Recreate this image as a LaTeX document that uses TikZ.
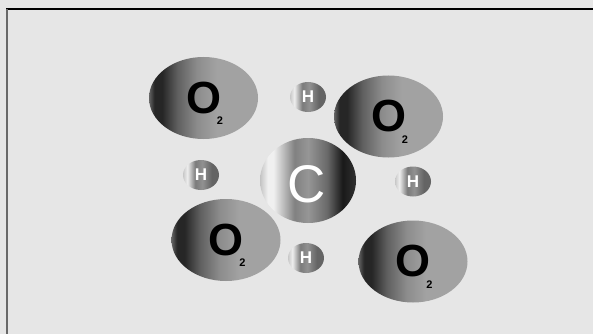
\documentclass[tikz,border=0pt]{standalone}
\usepackage{fontspec}
\setmainfont{Liberation Sans}
\usetikzlibrary{shapes.geometric,calc}
\definecolor{bggray}{RGB}{230,230,230}
\definecolor{framegray}{RGB}{105,105,105}
% oxygen tones
\definecolor{oxyrim}{RGB}{100,100,100}
\definecolor{oxydark}{RGB}{38,38,38}
\definecolor{oxymid}{RGB}{95,95,95}
\definecolor{oxygray}{RGB}{140,140,140}
\definecolor{oxylight}{RGB}{162,162,162}
% carbon tones
\definecolor{carbrim}{RGB}{195,195,195}
\definecolor{carbhi}{RGB}{240,240,240}
\definecolor{carbgray}{RGB}{150,150,150}
\definecolor{carbdark}{RGB}{25,25,25}
% hydrogen tones
\definecolor{hydrim}{RGB}{200,200,200}
\definecolor{hydhi}{RGB}{238,238,238}
\definecolor{hydgray}{RGB}{145,145,145}
\definecolor{hyddark}{RGB}{100,100,100}
\pgfdeclarehorizontalshading{oxyshade}{100bp}{color(0bp)=(oxyrim); color(25bp)=(oxyrim);
  color(27.5bp)=(oxydark); color(31bp)=(oxydark); color(38bp)=(oxymid);
  color(47bp)=(oxygray); color(56bp)=(oxylight); color(100bp)=(oxylight)}
\pgfdeclarehorizontalshading{carbshade}{100bp}{color(0bp)=(carbrim); color(25bp)=(carbrim);
  color(29bp)=(carbhi); color(32bp)=(carbhi); color(43bp)=(carbgray!120!white);
  color(50bp)=(carbgray); color(60bp)=(carbgray!70!black); color(68bp)=(carbdark);
  color(75bp)=(carbdark!90!white); color(100bp)=(carbdark!90!white)}
\pgfdeclarehorizontalshading{hydshade}{100bp}{color(0bp)=(hydrim); color(25bp)=(hydrim);
  color(31bp)=(hydhi); color(42bp)=(hydgray!120!white); color(52bp)=(hydgray);
  color(65bp)=(hyddark); color(100bp)=(hyddark)}

\begin{document}
\begin{tikzpicture}[x=1pt,y=-1pt,
    oxy/.style={ellipse,minimum width=109pt,minimum height=82pt,inner sep=0pt,shading=oxyshade},
    carb/.style={ellipse,minimum width=96pt,minimum height=85pt,inner sep=0pt,shading=carbshade},
    hyd/.style={ellipse,minimum width=36pt,minimum height=30pt,inner sep=0pt,shading=hydshade},
    olabel/.style={inner sep=0pt,font=\fontsize{45}{45}\selectfont\bfseries},
    osub/.style={inner sep=0pt,font=\fontsize{11}{11}\selectfont\bfseries},
    clabel/.style={inner sep=0pt,text=white,font=\fontsize{53}{53}\selectfont},
    hlabel/.style={inner sep=0pt,text=white,font=\fontsize{17}{17}\selectfont\bfseries}]
  \useasboundingbox (0,0) rectangle (593,334);
  \fill[bggray] (0,0) rectangle (593,334);
  \draw[line width=1.5pt] (6,9) -- (593,9);
  \draw[framegray,line width=2pt] (7,9) -- (7,334);
  \node[oxy] (o2a) at (203.5,98)  {};
  \node[oxy] (o2b) at (388.5,116.5) {};
  \node[oxy] (o2c) at (226,240)   {};
  \node[oxy] (o2d) at (413,261.5) {};
  \node[carb] (carbon) at (308,180.5) {};
  \node[hyd] (hTop)    at (308,97)    {};
  \node[hyd] (hLeft)   at (201,175)   {};
  \node[hyd] (hRight)  at (413,181.5) {};
  \node[hyd] (hBottom) at (306,258)   {};
  \foreach \n in {o2a,o2b,o2c,o2d}{
    \node[olabel] at (\n) {O};
    \node[osub] at ($(\n)+(16.5,23)$) {2};
  }
  \node[clabel] at ($(carbon)+(-1,3.5)$) {C};
  \foreach \n in {hTop,hLeft,hRight,hBottom}
    \node[hlabel] at (\n) {H};
\end{tikzpicture}
\end{document}
